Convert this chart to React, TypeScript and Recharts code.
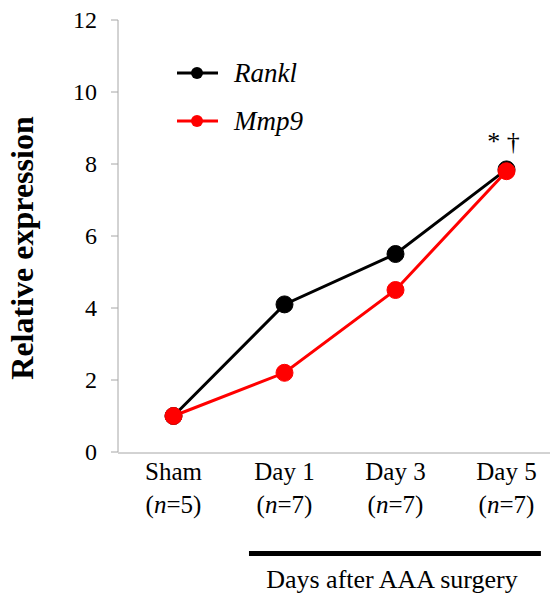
import React from "react";
import { Legend, Line, LineChart, ReferenceLine, XAxis, YAxis } from "recharts";

const categories = ["Sham", "Day 1", "Day 3", "Day 5"];
const groupSizes = [5, 7, 7, 7];
const rankl = [1.0, 4.1, 5.5, 7.85];
const mmp9 = [1.0, 2.2, 4.5, 7.8];
const significance = ["", "", "", "* \u2020"];
const yTicks = [0, 2, 4, 6, 8, 10, 12];
const boundaryTicks = [0, 1, 2, 3, 4];
const centerTicks = [0.5, 1.5, 2.5, 3.5];

const serif = "Liberation Serif";
const axisGrey = "#a6a6a6";

// category centers sit in the middle of each band (Excel "between tick marks" style)
const data = categories.map((name, i) => ({
  name,
  x: i + 0.5,
  n: groupSizes[i],
  rankl: rankl[i],
  mmp9: mmp9[i],
  sig: significance[i],
}));

const series = [
  { key: "rankl", name: "Rankl", color: "#000000" },
  { key: "mmp9", name: "Mmp9", color: "#ff0000" },
];

function CategoryTick(props: any) {
  const { x, y, payload } = props;
  const idx = Math.round(payload.value - 0.5);
  const d = data[idx];
  if (!d) return null;
  return (
    <text textAnchor="middle" fontFamily={serif} fontSize={25} fill="#000">
      <tspan x={x} y={y + 28}>{d.name}</tspan>
      <tspan x={x} y={y + 61}>
        (<tspan fontStyle="italic">n</tspan>={d.n})
      </tspan>
    </text>
  );
}

function ValueTick(props: any) {
  const { x, y, payload } = props;
  return (
    <text x={x} y={y} dy={8} textAnchor="end" fontFamily={serif} fontSize={24} fill="#000">
      {payload.value}
    </text>
  );
}

function SigLabel(props: any) {
  const { x, y, index } = props;
  const text = data[index]?.sig;
  if (!text) return null;
  return (
    <text x={x - 3} y={y - 19} textAnchor="middle" fontFamily={serif} fontSize={26} fill="#000">
      {text}
    </text>
  );
}

function LegendBox() {
  return (
    <svg width={140} height={96}>
      {series.map((s, i) => (
        <g key={s.key} transform={`translate(0 ${23 + i * 48})`}>
          <line x1={2} x2={43} y1={0} y2={0} stroke={s.color} strokeWidth={3} />
          <circle cx={22} cy={0} r={6} fill={s.color} />
          <text x={59} y={9} fontFamily={serif} fontStyle="italic" fontSize={27} fill="#000">
            {s.name}
          </text>
        </g>
      ))}
    </svg>
  );
}

export default function App() {
  return (
    <div
      style={{
        position: "absolute",
        left: 0,
        top: 0,
        width: 550,
        height: 597,
        overflow: "hidden",
        background: "#fff",
      }}
    >
      <LineChart width={562} height={597} data={data} margin={{ top: 20, right: 0, bottom: 143, left: 0 }}>
        <XAxis
          xAxisId="marks"
          type="number"
          dataKey="x"
          domain={[0, 4]}
          ticks={boundaryTicks}
          tick={false}
          tickSize={6}
          height={1}
          stroke={axisGrey}
        />
        <XAxis
          xAxisId="labels"
          type="number"
          dataKey="x"
          domain={[0, 4]}
          ticks={centerTicks}
          axisLine={false}
          tickLine={false}
          tickSize={0}
          tickMargin={0}
          height={1}
          interval={0}
          tick={<CategoryTick />}
        />
        <YAxis
          domain={[0, 12]}
          ticks={yTicks}
          width={118}
          tickSize={7}
          tickMargin={14}
          stroke={axisGrey}
          tick={<ValueTick />}
          label={{
            content: (p: any) => {
              const vb = p.viewBox;
              const cx = vb.x + 33;
              const cy = vb.y + vb.height / 2 + 12;
              return (
                <text
                  x={cx}
                  y={cy}
                  transform={`rotate(-90 ${cx} ${cy})`}
                  textAnchor="middle"
                  fontFamily={serif}
                  fontWeight="bold"
                  fontSize={32}
                  fill="#000"
                >
                  Relative expression
                </text>
              );
            },
          }}
        />
        <Legend
          layout="vertical"
          align="center"
          verticalAlign="middle"
          wrapperStyle={{ left: 175, top: 50, width: "auto" }}
          content={() => <LegendBox />}
        />
        <ReferenceLine
          xAxisId="marks"
          segment={[
            { x: 1.18, y: -2.82 },
            { x: 3.81, y: -2.82 },
          ]}
          ifOverflow="visible"
          stroke="#000"
          strokeWidth={5}
          label={{
            content: (p: any) => {
              const vb = p.viewBox;
              return (
                <text
                  x={vb.x + vb.width / 2 - 3}
                  y={vb.y + 34}
                  textAnchor="middle"
                  fontFamily={serif}
                  fontSize={26}
                  fill="#000"
                >
                  Days after AAA surgery
                </text>
              );
            },
          }}
        />
        {/* invisible series so the label axis is bound to data */}
        <Line
          xAxisId="labels"
          dataKey="rankl"
          stroke="none"
          dot={false}
          activeDot={false}
          legendType="none"
          isAnimationActive={false}
        />
        <Line
          xAxisId="marks"
          dataKey="rankl"
          name="Rankl"
          stroke="#000"
          strokeWidth={3}
          dot={{ r: 8.5, fill: "#000", stroke: "#000", strokeWidth: 1 }}
          label={<SigLabel />}
          isAnimationActive={false}
        />
        <Line
          xAxisId="marks"
          dataKey="mmp9"
          name="Mmp9"
          stroke="#ff0000"
          strokeWidth={3}
          dot={{ r: 8.5, fill: "#ff0000", stroke: "#ff0000", strokeWidth: 1 }}
          isAnimationActive={false}
        />
      </LineChart>
    </div>
  );
}
